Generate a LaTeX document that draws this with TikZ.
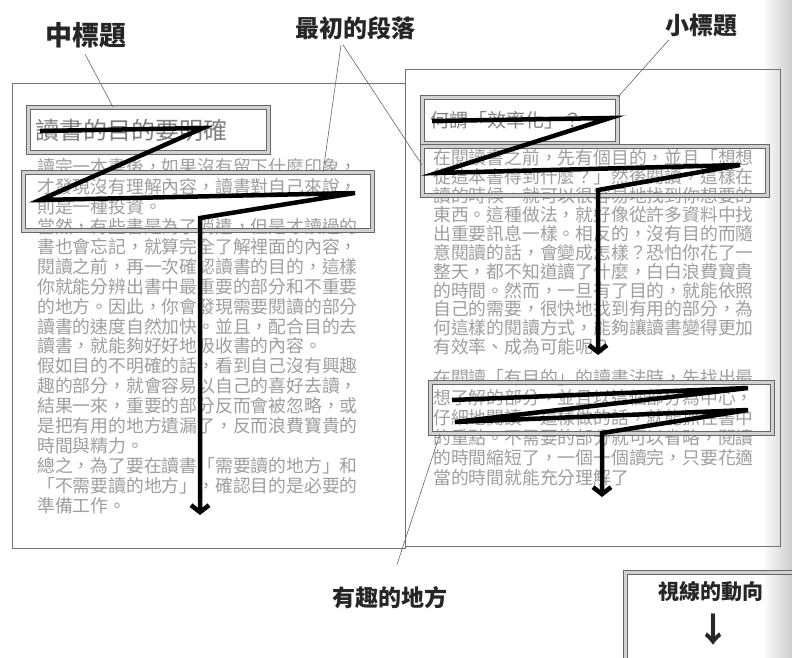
\documentclass[tikz,border=0pt]{standalone}
\usepackage{fontspec}
\newfontfamily\cjk{Noto Sans CJK TC}
\usetikzlibrary{arrows.meta,calc}
\begin{document}
\begin{tikzpicture}[x=1pt,y=-1pt,
  pagefr/.style={draw=black!55,line width=0.8pt},
  hbox/.style={draw=black!60,double=black!18,double distance=3pt,line width=0.9pt,inner sep=0pt,anchor=north west},
  body/.style={font=\cjk\fontsize{17.8}{20}\selectfont,text=black!38,inner sep=0pt,anchor=west},
  ttlA/.style={font=\cjk\fontsize{24}{26}\selectfont,text=black!50,inner sep=0pt,anchor=west},
  ttlB/.style={font=\cjk\fontsize{19}{22}\selectfont,text=black!50,inner sep=0pt,anchor=west},
  lbl/.style={font=\cjk\bfseries\fontsize{23}{26}\selectfont,text=black!85,inner sep=0pt},
  ptr/.style={draw=black!60,line width=0.6pt},
  zig/.style={draw=black,line width=4.5pt,line join=miter,-{Straight Barb[length=7pt,width=18pt]}}
]
\useasboundingbox (0,0) rectangle (792,657);
\fill[white] (0,0) rectangle (792,657);
\shade[left color=white,right color=black!20] (762,0) rectangle (792,657);

% page frames
\draw[pagefr] (12,83) rectangle (405,548);
\draw[pagefr] (405,69) rectangle (780,546);

% left page body text
\foreach \t [count=\i from 0] in {
讀完一本書後，如果沒有留下什麼印象，,
才發現沒有理解內容，讀書對自己來說，,
則是一種投資。,
當然，有些書是為了消遣，但是才讀過的,
書也會忘記，就算完全了解裡面的內容，,
閱讀之前，再一次確認讀書的目的，這樣,
你就能分辨出書中最重要的部分和不重要,
的地方。因此，你會發現需要閱讀的部分,
讀書的速度自然加快。並且，配合目的去,
讀書，就能夠好好地吸收書的內容。,
假如目的不明確的話，看到自己沒有興趣,
趣的部分，就會容易以自己的喜好去讀，,
結果一來，重要的部分反而會被忽略，或,
是把有用的地方遺漏了，反而浪費寶貴的,
時間與精力。,
總之，為了要在讀書「需要讀的地方」和,
「不需要讀的地方」，確認目的是必要的,
準備工作。}
  \node[body] (L\i) at (37,167+19.9*\i) {\t};

% right page body text
\foreach \t [count=\i from 0] in {
在閱讀書之前，先有個目的，並且「想想,
從這本書得到什麼？」然後閱讀，這樣在,
讀的時候，就可以很容易地找到你想要的,
東西。這種做法，就好像從許多資料中找,
出重要訊息一樣。相反的，沒有目的而隨,
意閱讀的話，會變成怎樣？恐怕你花了一,
整天，都不知道讀了什麼，白白浪費寶貴,
的時間。然而，一旦有了目的，就能依照,
自己的需要，很快地找到有用的部分，為,
何這樣的閱讀方式，能夠讓讀書變得更加,
有效率、成為可能呢？}
  \node[body] (R\i) at (433,158+18.9*\i) {\t};

\foreach \t [count=\i from 0] in {
在閱讀「有目的」的讀書法時，先找出最,
想了解的部分，並且以這個部分為中心，,
仔細地閱讀。這樣做的話，就能抓住書中,
的重點。不需要的部分就可以省略，閱讀,
的時間縮短了，一個一個讀完，只要花適,
當的時間就能充分理解了}
  \node[body] (S\i) at (433,378+20*\i) {\t};

% titles
\node[ttlA] (T1) at (35,130) {讀書的目的要明確};
\node[ttlB] (T2) at (430,120) {何謂「效率化」？};

% highlight boxes
\node[hbox,minimum width=240pt,minimum height=45pt] (t1) at (28,107) {};
\node[hbox,minimum width=349pt,minimum height=58pt] (p1) at (23,172) {};
\node[hbox,minimum width=195pt,minimum height=46pt] (t2) at (422,97) {};
\node[hbox,minimum width=345pt,minimum height=49pt] (p2) at (422,146) {};
\node[hbox,minimum width=342pt,minimum height=51pt] (p3) at (430,382) {};

% labels
\node[lbl,font=\cjk\bfseries\fontsize{27}{30}\selectfont] (A) at (86,35) {中標題};
\node[lbl,font=\cjk\bfseries\fontsize{24}{27}\selectfont] (B) at (355,28) {最初的段落};
\node[lbl,font=\cjk\bfseries\fontsize{24}{27}\selectfont] (C) at (701,25) {小標題};
\node[lbl] (D) at (390,598) {有趣的地方};

% pointer lines
\draw[ptr] ([xshift=-1pt,yshift=-6pt]A.south) -- ($(t1.north west)+(85,0)$);
\draw[ptr] ([xshift=-14pt,yshift=-5pt]B.south) -- ($(p1.north west)+(300,0)$);
\draw[ptr] ([xshift=-12pt,yshift=-5pt]B.south) -- ($(p2.north west)+(0,19)$);
\draw[ptr] ([xshift=-32pt,yshift=-3pt]C.south) -- (t2.north east);
\draw[ptr] ([xshift=7pt,yshift=22pt]D.north) -- ($(p3.south west)+(10,0)$);

% reading-direction zigzags
\draw[zig] (40,131) -- (203,128) -- (40,200) -- (355,193) -- (200,218) -- (200,515);
\draw[zig] (432,121) -- (610,118) -- (437,173) -- (740,165) -- (598,190) -- (598,355);
\draw[zig] (452,400) -- (748,388) -- (455,422) -- (748,410) -- (602,433) -- (602,497);

% legend
\node[hbox,minimum width=200pt,minimum height=100pt] (lg) at (625,572) {};
\node[lbl,font=\cjk\bfseries\fontsize{21}{24}\selectfont] (E) at (711,592) {視線的動向};
\node[lbl,font=\cjk\bfseries\fontsize{34}{36}\selectfont] (F) at (713,630) {↓};
\end{tikzpicture}
\end{document}
